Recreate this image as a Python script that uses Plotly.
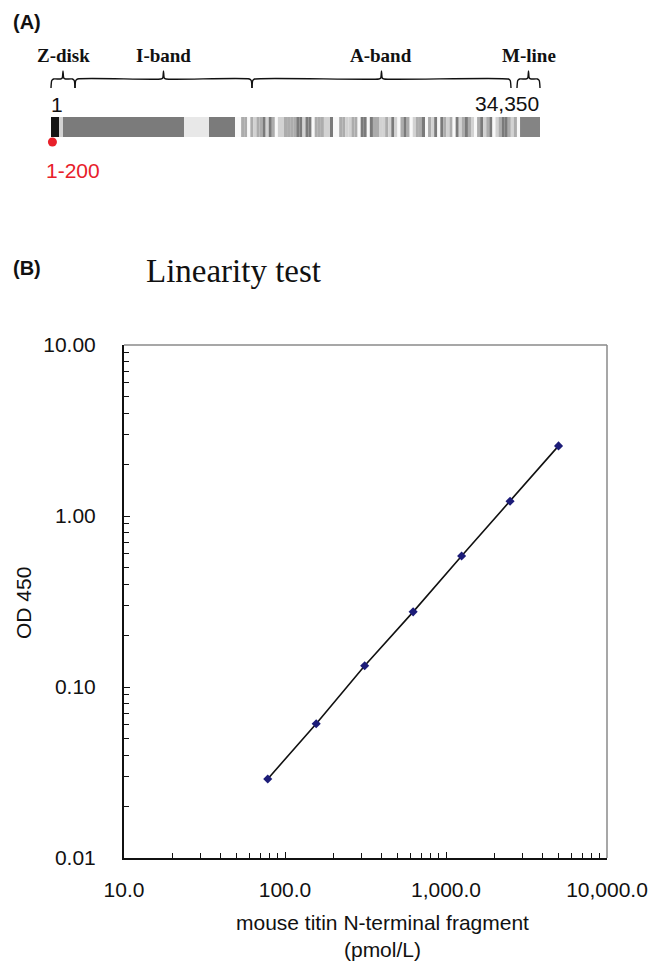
import plotly.graph_objects as go

W, H = 655, 969

# ---------------- Panel B data ----------------
conc = [78.125, 156.25, 312.5, 625, 1250, 2500, 5000]
od = [0.029, 0.061, 0.133, 0.275, 0.583, 1.22, 2.57]
x_tickvals = [10, 100, 1000, 10000]
x_ticktext = ["10.0", "100.0", "1,000.0", "10,000.0"]
y_tickvals = [0.01, 0.1, 1, 10]
y_ticktext = ["0.01", "0.10", "1.00", "10.00"]

# ---------------- Panel A data (titin map, residues) ----------------
titin_len = 34350
seg_start = [1, 563, 844, 9343, 11099, 32944]
seg_end = [563, 844, 9343, 11099, 12925, 34350]
seg_color = ["#151515", "#d2d2d2", "#7b7b7b", "#e8e8e8", "#7b7b7b", "#848484"]
stripe_start, stripe_end = 12925, 32944
stripe_pattern = ("wwmmwmlmmdldmwllmmmmddlddwmmmlldwwmmllmmwddwdmmll"
                  "mldlwmdmwlmmdwmldwdmlmwdlmdmlwmdlmdwlmddmlmw")
shade = {"w": "#f8f8f8", "l": "#d2d2d2", "m": "#acacac", "d": "#7a7a7a"}
regions = ["Z-disk", "I-band", "A-band", "M-line"]
region_start = [1, 1687, 14119, 32734]
region_end = [1687, 14119, 32312, 34350]
fragment = [1, 200]

# ---------------- helpers ----------------
def xp(px):
    return px / W

def yp(py):
    return 1 - py / H

res_per_px = (titin_len - 1) / (540 - 51)
x2_range = [1 - 51 * res_per_px, 1 + (W - 51) * res_per_px]

fig = go.Figure()

# titin bar segments
bs, bw, bc = [], [], []
for s, e, c in zip(seg_start, seg_end, seg_color):
    bs.append(s); bw.append(e - s); bc.append(c)
cell = (stripe_end - stripe_start) / len(stripe_pattern)
for i, ch in enumerate(stripe_pattern):
    bs.append(stripe_start + i * cell); bw.append(cell * 1.02); bc.append(shade[ch])
fig.add_trace(go.Bar(orientation="h", base=bs, x=bw, y=[127] * len(bs), width=20,
                     marker=dict(color=bc, line=dict(width=0)),
                     xaxis="x2", yaxis="y2", showlegend=False, hoverinfo="skip"))

# brackets
y_line, y_end, y_tip = 79, 88, 71
d = 2.6 * res_per_px
for s, e in zip(region_start, region_end):
    m = (s + e) / 2
    bx = [s, s + 0.3 * d, s + d, m - d, m - 0.3 * d, m, m + 0.3 * d, m + d, e - d, e - 0.3 * d, e]
    by = [y_end, y_line + 1.5, y_line, y_line, y_line - 1, y_tip, y_line - 1, y_line, y_line, y_line + 1.5, y_end]
    fig.add_trace(go.Scatter(x=bx, y=by, mode="lines", line=dict(color="#111", width=1.4, shape="spline", smoothing=0.6),
                             xaxis="x2", yaxis="y2", showlegend=False, hoverinfo="skip"))

# fragment dot
fig.add_trace(go.Scatter(x=[sum(fragment) / 2], y=[142], mode="markers",
                         marker=dict(color="#e8202a", size=9), xaxis="x2", yaxis="y2",
                         showlegend=False, hoverinfo="skip", cliponaxis=False))

# Panel B data
fig.add_trace(go.Scatter(x=conc, y=od, mode="lines", line=dict(color="#111", width=1.6),
                         showlegend=False))
fig.add_trace(go.Scatter(x=conc, y=od, mode="markers",
                         marker=dict(symbol="diamond", color="#1c1c78", size=7),
                         showlegend=False))

ann = []
serif = "Liberation Serif, Times New Roman, serif"
sans = "Liberation Sans, Arial, sans-serif"
for name, s, e in zip(regions, region_start, region_end):
    ann.append(dict(x=(s + e) / 2, y=55, xref="x2", yref="y2", text="<b>" + name + "</b>",
                    xanchor="center", yanchor="middle",
                    showarrow=False, font=dict(family=serif, size=19, color="#111")))
ann.append(dict(x=1, y=104, xref="x2", yref="y2", text="1", xanchor="left", yanchor="middle", xshift=-2,
                showarrow=False, font=dict(family=sans, size=21, color="#111")))
ann.append(dict(x=titin_len, y=103, xref="x2", yref="y2", text=f"{titin_len:,}", xanchor="right",
                yanchor="middle", xshift=1,
                showarrow=False, font=dict(family=sans, size=21, color="#111")))
ann.append(dict(x=fragment[0], y=170, xref="x2", yref="y2", text=f"{fragment[0]}-{fragment[1]}",
                xanchor="left", yanchor="middle", xshift=-7, showarrow=False,
                font=dict(family=sans, size=21, color="#e8202a")))
ann.append(dict(x=xp(11), y=yp(22), xref="paper", yref="paper", text="<b>(A)</b>", xanchor="left",
                yanchor="middle", showarrow=False, font=dict(family=sans, size=20, color="#111")))
ann.append(dict(x=xp(11), y=yp(268), xref="paper", yref="paper", text="<b>(B)</b>", xanchor="left",
                yanchor="middle", showarrow=False, font=dict(family=sans, size=20, color="#111")))
ann.append(dict(x=xp(233), y=yp(271), xref="paper", yref="paper", text="Linearity test",
                xanchor="center", yanchor="middle",
                showarrow=False, font=dict(family=serif, size=33, color="#111")))
ann.append(dict(x=xp(23), y=yp(603), xref="paper", yref="paper", text="OD 450", textangle=-90,
                xanchor="center", yanchor="middle",
                showarrow=False, font=dict(family=sans, size=21, color="#111")))
ann.append(dict(x=xp(382), y=yp(936), xref="paper", yref="paper",
                text="mouse titin N-terminal fragment<br>(pmol/L)",
                xanchor="center", yanchor="middle",
                showarrow=False, font=dict(family=sans, size=21, color="#111")))

minor_vals = [m * 10 ** k for k in range(-2, 4) for m in range(2, 10)]

fig.update_layout(
    width=W, height=H, margin=dict(l=0, r=0, t=0, b=0, autoexpand=False),
    paper_bgcolor="white", plot_bgcolor="white",
    barmode="overlay", annotations=ann,
    xaxis=dict(type="log", range=[1, 4], domain=[xp(124), xp(607)], anchor="y", automargin=False,
               tickvals=x_tickvals, ticktext=x_ticktext, ticks="inside", ticklen=6,
               tickcolor="#111", tickwidth=1.3,
               minor=dict(tickvals=minor_vals, ticks="inside", ticklen=5, tickcolor="#111", tickwidth=1.2),
               showgrid=False, zeroline=False, showline=True, linecolor="#111", linewidth=2,
               tickfont=dict(family=sans, size=21, color="#111"), ticklabelstandoff=12),
    yaxis=dict(type="log", range=[-2, 1], domain=[yp(858), yp(345)], anchor="x", automargin=False,
               tickvals=y_tickvals, ticktext=y_ticktext, ticks="inside", ticklen=6,
               tickcolor="#111", tickwidth=1.3,
               minor=dict(tickvals=minor_vals, ticks="inside", ticklen=5, tickcolor="#111", tickwidth=1.2),
               showgrid=False, zeroline=False, showline=True, linecolor="#111", linewidth=2,
               tickfont=dict(family=sans, size=21, color="#111"), ticklabelstandoff=22),
    xaxis2=dict(domain=[0, 1], range=x2_range, anchor="y2", visible=False, automargin=False),
    yaxis2=dict(domain=[yp(200), 1], range=[200, 0], anchor="x2", visible=False, automargin=False),
    shapes=[
        dict(type="line", xref="x domain", yref="y domain", x0=0, x1=1, y0=1, y1=1,
             line=dict(color="#8a8a8a", width=1.5)),
        dict(type="line", xref="x domain", yref="y domain", x0=1, x1=1, y0=0, y1=1,
             line=dict(color="#8a8a8a", width=1.5)),
    ],
)

fig.write_html("out.html")
